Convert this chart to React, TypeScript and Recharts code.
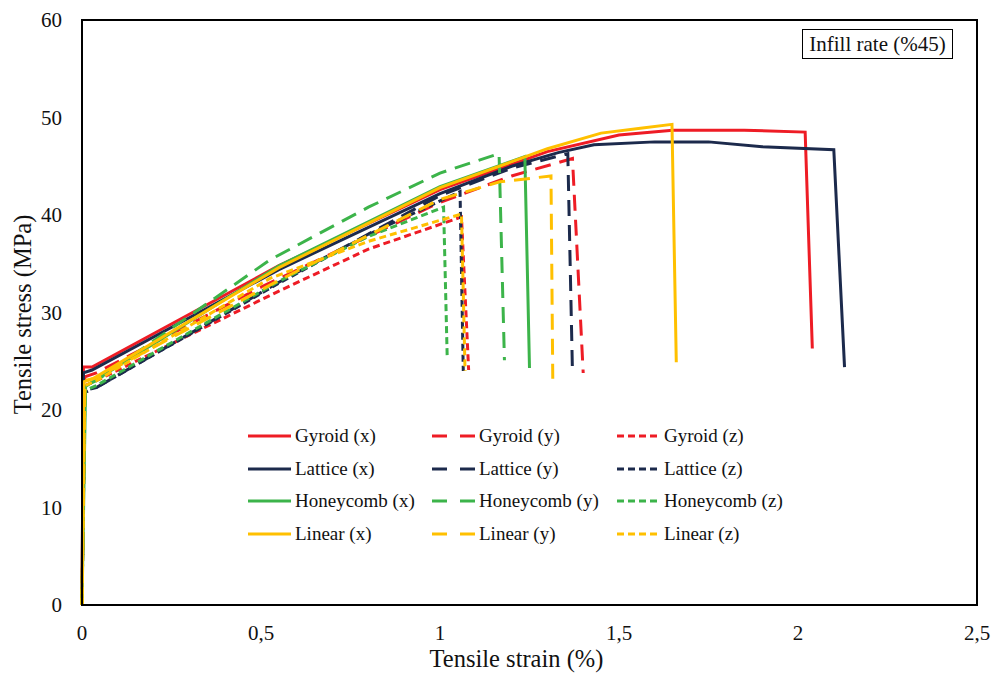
import { LineChart, Line, XAxis, YAxis, ReferenceArea } from 'recharts'

// strain (%) / stress (MPa) pairs
const gyroidX: [number, number][] = [
  [0, 0], [0.004, 24.4], [0.028, 24.4], [0.55, 34.8], [1.0, 42.6], [1.3, 46.5],
  [1.5, 48.2], [1.65, 48.7], [1.85, 48.7], [2.02, 48.5], [2.04, 26.3],
]
const gyroidY: [number, number][] = [
  [0, 0], [0.008, 23.4], [0.04, 23.8], [0.5, 32.6], [1.0, 41.3], [1.2, 44.0], [1.37, 45.8], [1.4, 23.8],
]
const gyroidZ: [number, number][] = [
  [0, 0], [0.008, 22.5], [0.04, 23.0], [0.55, 32.2], [0.8, 36.5], [1.06, 39.8], [1.08, 24.1],
]
const latticeX: [number, number][] = [
  [0, 0], [0.004, 23.8], [0.028, 24.1], [0.55, 34.4], [1.0, 42.2], [1.2, 45.0], [1.33, 46.4],
  [1.43, 47.2], [1.6, 47.5], [1.75, 47.5], [1.9, 47.0], [2.1, 46.7], [2.13, 24.4],
]
const latticeY: [number, number][] = [
  [0, 0], [0.008, 21.8], [0.04, 22.3], [0.55, 33.1], [1.0, 42.0], [1.2, 44.8], [1.357, 46.3], [1.37, 23.9],
]
const latticeZ: [number, number][] = [
  [0, 0], [0.008, 22.0], [0.04, 22.3], [0.55, 33.0], [0.8, 38.0], [1.056, 42.4], [1.065, 24.0],
]
const honeycombX: [number, number][] = [
  [0, 0], [0.01, 22.4], [0.03, 22.9], [0.55, 34.8], [1.0, 42.9], [1.237, 46.0], [1.25, 24.3],
]
const honeycombY: [number, number][] = [
  [0, 0], [0.008, 22.5], [0.04, 23.0], [0.525, 35.4], [0.8, 40.8], [1.0, 44.3], [1.165, 46.3], [1.18, 25.1],
]
const honeycombZ: [number, number][] = [
  [0, 0], [0.008, 22.0], [0.04, 22.5], [0.55, 33.2], [0.8, 37.8], [1.01, 40.8], [1.02, 25.6],
]
const linearX: [number, number][] = [
  [0, 0], [0.005, 22.9], [0.03, 23.2], [0.55, 34.6], [1.0, 42.8], [1.3, 46.8], [1.45, 48.4],
  [1.56, 48.9], [1.648, 49.3], [1.66, 24.9],
]
const linearY: [number, number][] = [
  [0, 0], [0.008, 23.0], [0.04, 23.3], [0.55, 33.3], [1.0, 41.6], [1.167, 43.4], [1.31, 44.0], [1.315, 23.2],
]
const linearZ: [number, number][] = [
  [0, 0], [0.008, 22.5], [0.04, 23.0], [0.525, 33.5], [0.8, 37.3], [1.06, 40.1], [1.07, 24.0],
]

const xTicks = [0, 0.5, 1, 1.5, 2, 2.5]
const yTicks = [0, 10, 20, 30, 40, 50, 60]

const RED = '#ee1c25'
const NAVY = '#1c2a4c'
const GREEN = '#3cb44a'
const YELLOW = '#ffc000'

const SOLID = undefined
const LONG = '16 9'
const SHORT = '7 4'

const series = [
  { name: 'Gyroid (x)', data: gyroidX, color: RED, dash: SOLID },
  { name: 'Gyroid (y)', data: gyroidY, color: RED, dash: LONG },
  { name: 'Gyroid (z)', data: gyroidZ, color: RED, dash: SHORT },
  { name: 'Lattice (x)', data: latticeX, color: NAVY, dash: SOLID },
  { name: 'Lattice (y)', data: latticeY, color: NAVY, dash: LONG },
  { name: 'Lattice (z)', data: latticeZ, color: NAVY, dash: SHORT },
  { name: 'Honeycomb (x)', data: honeycombX, color: GREEN, dash: SOLID },
  { name: 'Honeycomb (y)', data: honeycombY, color: GREEN, dash: LONG },
  { name: 'Honeycomb (z)', data: honeycombZ, color: GREEN, dash: SHORT },
  { name: 'Linear (x)', data: linearX, color: YELLOW, dash: SOLID },
  { name: 'Linear (y)', data: linearY, color: YELLOW, dash: LONG },
  { name: 'Linear (z)', data: linearZ, color: YELLOW, dash: SHORT },
]

const FONT = '"Liberation Serif", "Times New Roman", serif'
const tickStyle = { fill: '#111', fontSize: 21, fontFamily: FONT }

const toPts = (d: [number, number][]) => d.map(([x, y]) => ({ x, y }))

function LegendBox() {
  return (
    <div style={{
      position: 'absolute', left: 248, top: 420, width: 560,
      display: 'grid', gridTemplateColumns: '184px 185px 190px', gridAutoRows: '32.5px',
      fontFamily: FONT, fontSize: 19, color: '#111',
    }}>
      {series.map(s => (
        <div key={s.name} style={{ display: 'flex', alignItems: 'center', whiteSpace: 'nowrap' }}>
          <svg width={43} height={6} style={{ marginRight: 4 }}>
            <line x1={0} y1={3} x2={43} y2={3} stroke={s.color} strokeWidth={3}
              strokeDasharray={s.dash === LONG ? '15 13' : s.dash} />
          </svg>
          <span>{s.name}</span>
        </div>
      ))}
    </div>
  )
}

export default function App() {
  return (
    <div style={{ position: 'fixed', left: 0, top: 0, width: 993, height: 674, background: '#fff' }}>
      <LineChart width={993} height={674} margin={{ top: 20, right: 16, bottom: 0, left: 0 }}>
        <XAxis
          dataKey="x"
          type="number"
          domain={[0, 2.5]}
          ticks={xTicks}
          tickFormatter={(v: number) => String(v).replace('.', ',')}
          height={69}
          tickLine={false}
          tickSize={0}
          tickMargin={20}
          axisLine={{ stroke: '#000', strokeWidth: 2 }}
          tick={tickStyle}
          label={{ value: 'Tensile strain (%)', position: 'center', dx: -13, dy: 19, fill: '#111', fontSize: 24.5, fontFamily: FONT }}
        />
        <YAxis
          type="number"
          domain={[0, 60]}
          ticks={yTicks}
          width={82}
          tickLine={false}
          tickSize={0}
          tickMargin={20}
          axisLine={{ stroke: '#000', strokeWidth: 2 }}
          tick={tickStyle}
          label={{ value: 'Tensile stress (MPa)', angle: -90, position: 'center', dx: -19, dy: 2, fill: '#111', fontSize: 24.5, fontFamily: FONT }}
        />
        <ReferenceArea x1={0} x2={2.5} y1={0} y2={60} fill="none" stroke="#000" strokeWidth={2} ifOverflow="visible" />
        {series.map(s => (
          <Line
            key={s.name}
            data={toPts(s.data)}
            dataKey="y"
            type="linear"
            stroke={s.color}
            strokeWidth={3}
            strokeDasharray={s.dash}
            dot={false}
            activeDot={false}
            isAnimationActive={false}
          />
        ))}
      </LineChart>
      <div style={{
        position: 'absolute', left: 802, top: 29, width: 151, height: 30, boxSizing: 'border-box',
        border: '1px solid #000', background: '#fff', fontFamily: FONT, fontSize: 21, color: '#111',
        display: 'flex', alignItems: 'center', justifyContent: 'center', whiteSpace: 'nowrap',
      }}>
        Infill rate (%45)
      </div>
      <LegendBox />
    </div>
  )
}
